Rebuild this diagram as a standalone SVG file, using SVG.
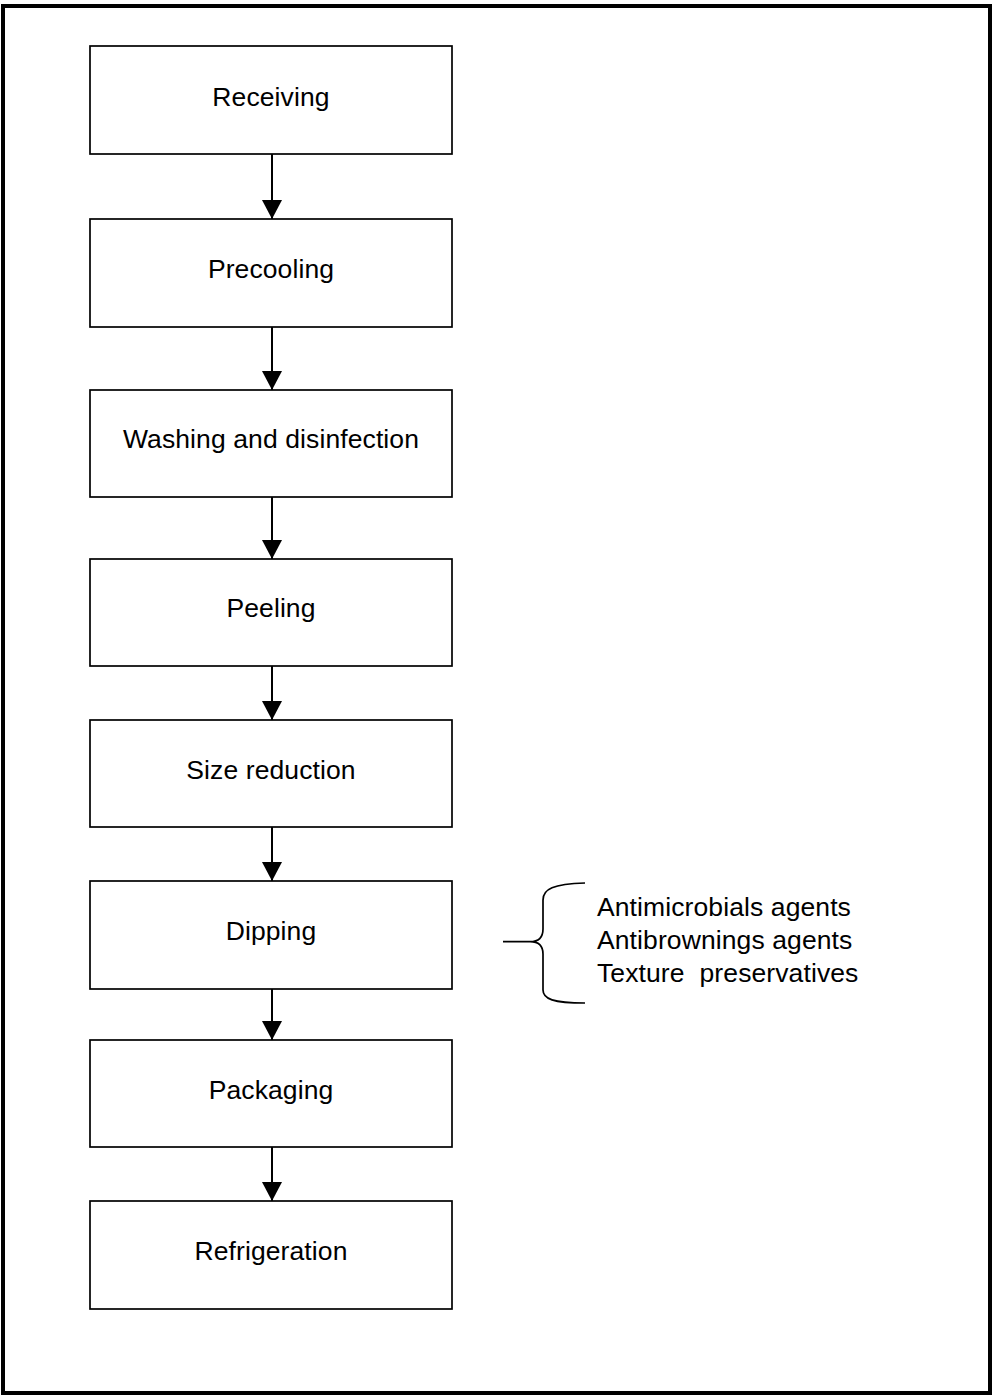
<svg xmlns="http://www.w3.org/2000/svg" width="992" height="1395" viewBox="0 0 992 1395">
<style>
.box{fill:#fff;stroke:#000;stroke-width:1.7}
.lbl{font-family:"Liberation Sans",Arial,sans-serif;font-size:26.5px;letter-spacing:0.1px;fill:#000;text-anchor:middle}
.note{font-family:"Liberation Sans",Arial,sans-serif;font-size:26.5px;letter-spacing:0.1px;fill:#000;white-space:pre}
.conn{stroke:#000;stroke-width:2;fill:none}
</style>
<defs>
<marker id="ah" markerUnits="userSpaceOnUse" markerWidth="20" markerHeight="20" refX="19" refY="10" orient="auto" viewBox="0 0 20 20">
<path d="M0,0 L19,10 L0,20 Z" fill="#000"/>
</marker>
</defs>
<rect x="3" y="6" width="987" height="1387" fill="#fff" stroke="#000" stroke-width="4"/>
<g id="n1"><rect class="box" x="90" y="46" width="362" height="108"/><text class="lbl" x="271" y="106">Receiving</text></g>
<g id="n2"><rect class="box" x="90" y="219" width="362" height="108"/><text class="lbl" x="271" y="278">Precooling</text></g>
<g id="n3"><rect class="box" x="90" y="390" width="362" height="107"/><text class="lbl" x="271" y="448">Washing and disinfection</text></g>
<g id="n4"><rect class="box" x="90" y="559" width="362" height="107"/><text class="lbl" x="271" y="617">Peeling</text></g>
<g id="n5"><rect class="box" x="90" y="720" width="362" height="107"/><text class="lbl" x="271" y="779">Size reduction</text></g>
<g id="n6"><rect class="box" x="90" y="881" width="362" height="108"/><text class="lbl" x="271" y="940">Dipping</text></g>
<g id="n7"><rect class="box" x="90" y="1040" width="362" height="107"/><text class="lbl" x="271" y="1099">Packaging</text></g>
<g id="n8"><rect class="box" x="90" y="1201" width="362" height="108"/><text class="lbl" x="271" y="1260">Refrigeration</text></g>
<g id="connectors">
<line class="conn" x1="272" y1="154" x2="272" y2="219" marker-end="url(#ah)"/>
<line class="conn" x1="272" y1="327" x2="272" y2="390" marker-end="url(#ah)"/>
<line class="conn" x1="272" y1="497" x2="272" y2="559" marker-end="url(#ah)"/>
<line class="conn" x1="272" y1="666" x2="272" y2="720" marker-end="url(#ah)"/>
<line class="conn" x1="272" y1="827" x2="272" y2="881" marker-end="url(#ah)"/>
<line class="conn" x1="272" y1="989" x2="272" y2="1040" marker-end="url(#ah)"/>
<line class="conn" x1="272" y1="1147" x2="272" y2="1201" marker-end="url(#ah)"/>
</g>
<g id="brace">
<path d="M503,941.7 L530,941.7 C539,941.7 543,937 543,929 L543,900 C543,889 553,884 585,883 M530,941.7 C539,941.7 543,946 543,954 L543,990 C543,999 553,1003 585,1003" fill="none" stroke="#000" stroke-width="1.7"/>
<text class="note" x="597" y="916">Antimicrobials agents</text>
<text class="note" x="597" y="949">Antibrownings agents</text>
<text class="note" x="597" y="982">Texture  preservatives</text>
</g>
</svg>
